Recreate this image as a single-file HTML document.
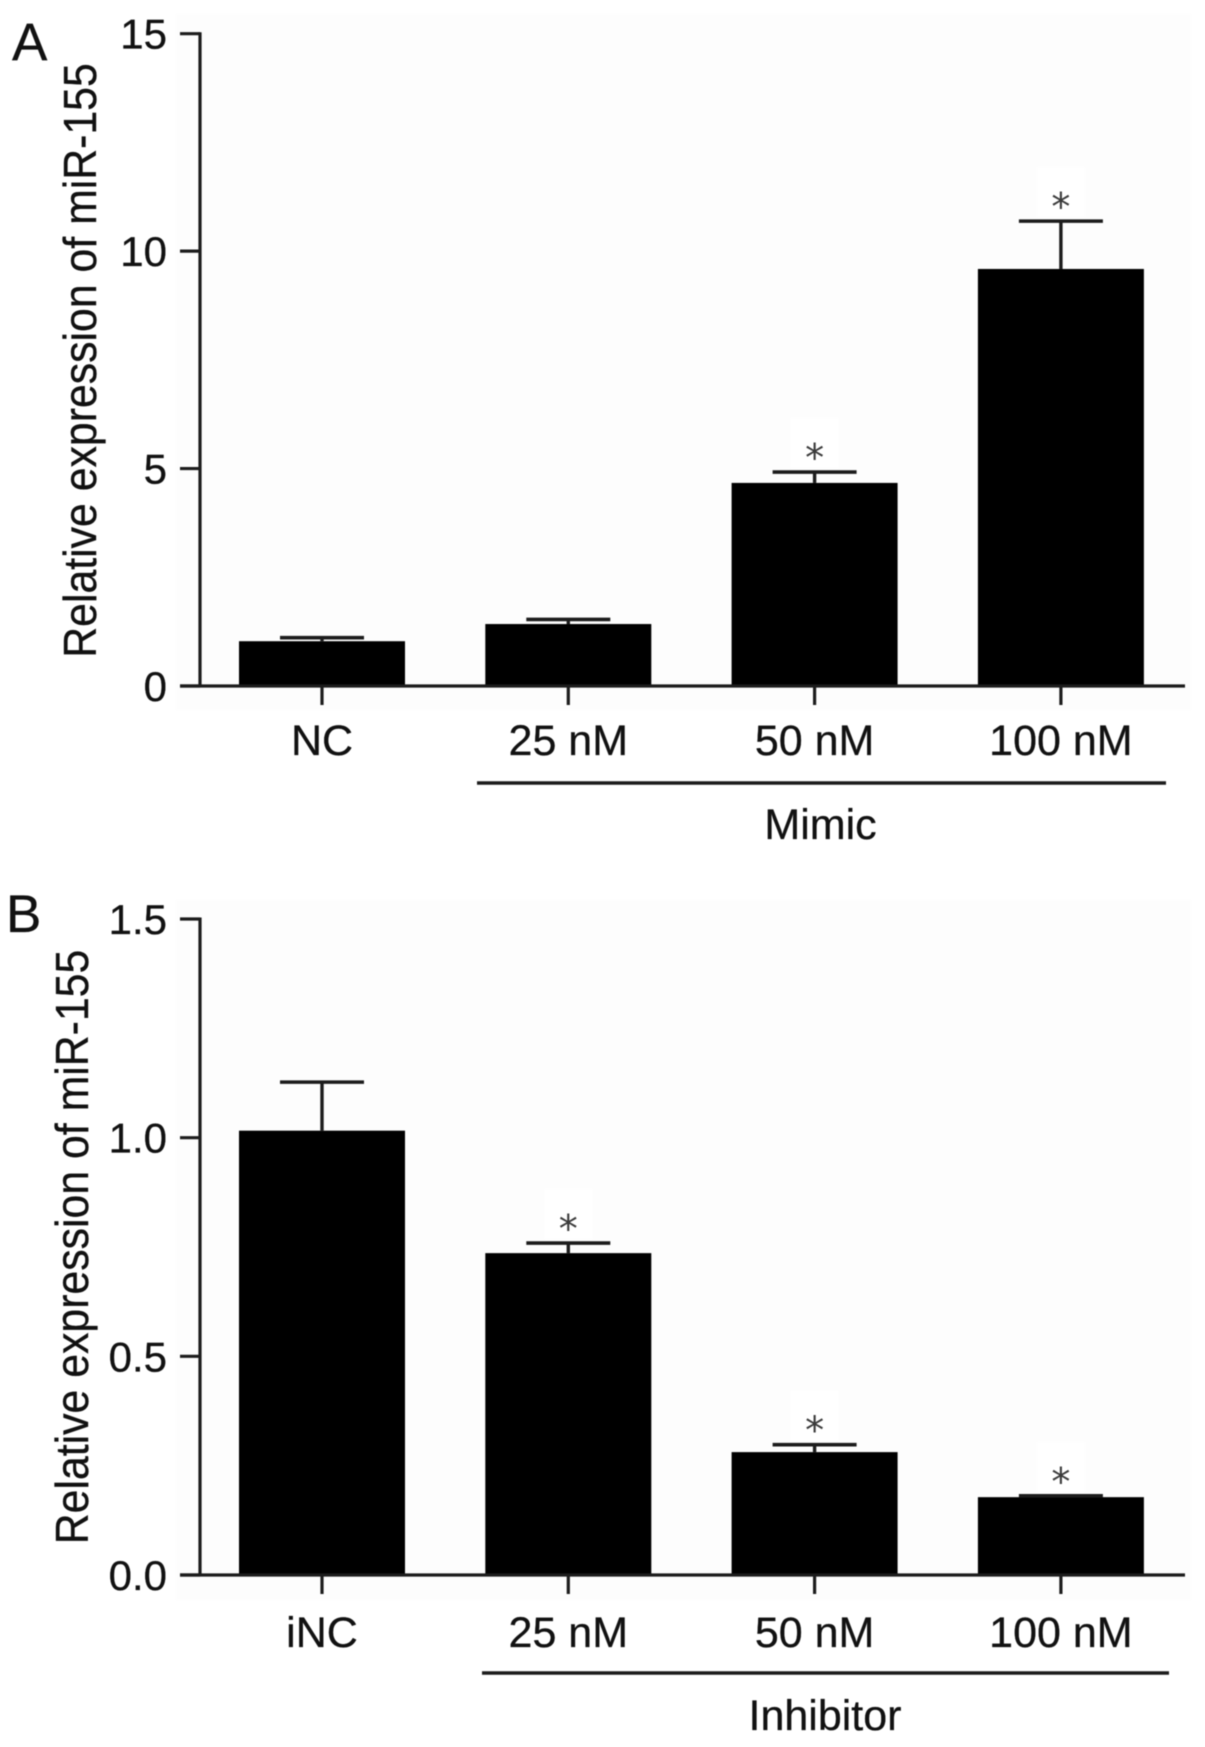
<!DOCTYPE html>
<html lang="en">
<head>
<meta charset="utf-8">
<title>Relative expression of miR-155</title>
<style>
  html, body { margin: 0; padding: 0; background: #fff; }
  body { width: 1205px; height: 1747px; overflow: hidden; }
  svg { display: block; filter: blur(0.6px); }
  text { font-family: "Liberation Sans", Arial, sans-serif; fill: #111; stroke: #111; stroke-width: 0.3px; }
</style>
</head>
<body>
<svg id="figure" xmlns="http://www.w3.org/2000/svg" width="1205" height="1747" viewBox="0 0 1205 1747">
  <rect x="176" y="14" width="1015" height="696" fill="#fdfdfd"/>
  <rect x="176" y="900" width="1015" height="700" fill="#fdfdfd"/>
  <g id="panel-a"></g>
  <g id="panel-b"></g>

  <text x="12" y="60" font-size="53">A</text>
  <text x="6" y="932" font-size="53">B</text>

  <text text-anchor="middle" font-size="42.8" transform="translate(96 360.5) rotate(-90) scale(1 1.09)">Relative expression of miR-155</text>
  <text text-anchor="middle" font-size="42.8" transform="translate(88 1247) rotate(-90) scale(1 1.09)">Relative expression of miR-155</text>

  <line x1="477" x2="1166" y1="783" y2="783" stroke="#1c1c1c" stroke-width="3.6"/>
  <text x="820.5" y="839" text-anchor="middle" font-size="43">Mimic</text>
  <line x1="482" x2="1169" y1="1673" y2="1673" stroke="#1c1c1c" stroke-width="3.6"/>
  <text x="825" y="1730" text-anchor="middle" font-size="43">Inhibitor</text>
</svg>

<script>
const categoriesA = ['NC', '25 nM', '50 nM', '100 nM'];
const valuesA = [1.03, 1.425, 4.67, 9.59];
const errorsA = [0.08, 0.105, 0.25, 1.10];
const significantA = [false, false, true, true];
const yTickValuesA = [0, 5, 10, 15];
const yTickLabelsA = ['0', '5', '10', '15'];

const categoriesB = ['iNC', '25 nM', '50 nM', '100 nM'];
const valuesB = [1.016, 0.736, 0.281, 0.178];
const errorsB = [0.111, 0.023, 0.017, 0.003];
const significantB = [false, true, true, true];
const yTickValuesB = [0, 0.5, 1, 1.5];
const yTickLabelsB = ['0.0', '0.5', '1.0', '1.5'];

const SVG_NS = 'http://www.w3.org/2000/svg';
const INK = '#1c1c1c';

function makeEl(tag, attrs, parent) {
  const el = document.createElementNS(SVG_NS, tag);
  for (const k in attrs) el.setAttribute(k, attrs[k]);
  parent.appendChild(el);
  return el;
}

function drawPanel(groupId, categories, values, errors, significant, tickValues, tickLabels, yMax, baseY, topY, labelBaseline) {
  const g = document.getElementById(groupId);
  const axisX = 200;
  const axisEnd = 1185;
  const firstCenter = 322;
  const step = 246.3;
  const barWidth = 166;
  const capWidth = 84;
  const yScale = v => baseY - (v / yMax) * (baseY - topY);
  const xScale = i => firstCenter + i * step;

  categories.forEach((cat, i) => {
    const cx = xScale(i);
    const top = yScale(values[i]);
    const errTop = yScale(values[i] + errors[i]);

    const bar = makeEl('rect', { x: cx - barWidth / 2, y: top, width: barWidth, height: baseY - top, fill: '#000' }, g);
    
    

    const stem = makeEl('line', { x1: cx, x2: cx, y1: top, y2: errTop, stroke: INK, 'stroke-width': 3.4 }, g);
    
    

    const cap = makeEl('line', { x1: cx - capWidth / 2, x2: cx + capWidth / 2, y1: errTop, y2: errTop, stroke: INK, 'stroke-width': 3.6 }, g);
    
    

    if (significant[i]) {
      const patch = makeEl('rect', { x: cx - 24, y: errTop - 54, width: 48, height: 50, fill: '#fff' }, g);
      
      

      const star = makeEl('text', { x: cx, y: errTop - 1, 'text-anchor': 'middle', 'font-size': 38 }, g);
      star.setAttribute('style', 'font-family:"DejaVu Sans",sans-serif;fill:#3a3a3a;stroke:none');
      
      
      star.textContent = '*';
    }

    const xTick = makeEl('line', { x1: cx, x2: cx, y1: baseY, y2: baseY + 19, stroke: INK, 'stroke-width': 3.2 }, g);
    
    

    const xLabel = makeEl('text', { x: cx, y: labelBaseline, 'text-anchor': 'middle', 'font-size': 43 }, g);
    
    
    xLabel.textContent = cat;
  });

  const yAxis = makeEl('line', { x1: axisX, x2: axisX, y1: topY - 1.5, y2: baseY, stroke: INK, 'stroke-width': 3.2 }, g);
  
  

  const xAxis = makeEl('line', { x1: 180, x2: axisEnd, y1: baseY, y2: baseY, stroke: INK, 'stroke-width': 3.2 }, g);
  
  

  tickValues.forEach((v, i) => {
    const y = yScale(v);

    const yTick = makeEl('line', { x1: 180, x2: axisX, y1: y, y2: y, stroke: INK, 'stroke-width': 3.2 }, g);
    
    

    const yLabel = makeEl('text', { x: 167, y: y + 15, 'text-anchor': 'end', 'font-size': 42 }, g);
    
    
    yLabel.textContent = tickLabels[i];
  });
}

drawPanel('panel-a', categoriesA, valuesA, errorsA, significantA, yTickValuesA, yTickLabelsA, 15, 686, 33.7, 755);
drawPanel('panel-b', categoriesB, valuesB, errorsB, significantB, yTickValuesB, yTickLabelsB, 1.5, 1575, 919, 1647);
</script>
</body>
</html>
